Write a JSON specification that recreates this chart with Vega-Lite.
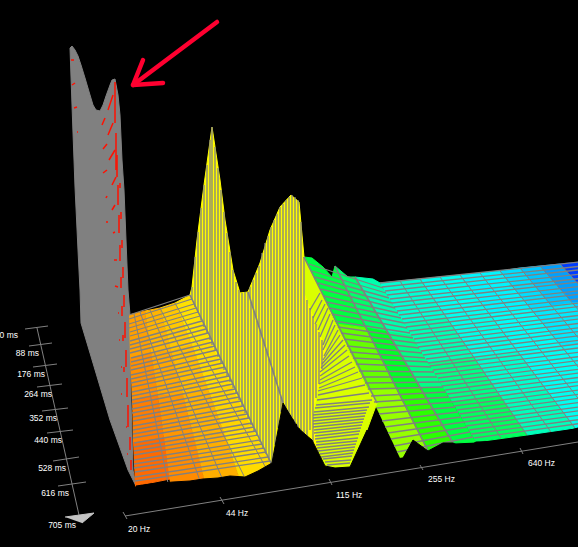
{"$schema":"https://vega.github.io/schema/vega-lite/v6.json","width":578,"height":547,"autosize":{"type":"none"},"padding":0,"background":"#000000","config":{"view":{"stroke":null}},
"datasets":{
"wall":[{"id":"w","xs":[70,72,75,78,81,85,90,93,96,100,103,106,110,112,115,118,120,122,124,126,128,130,131,133,136,128,110,90,81,80,78,75,73,71,70],"ys":[48,46,50,56,65,78,95,105,110,111,105,96,85,80,79,95,115,160,190,240,290,315,400,470,486,470,420,353,323,290,250,187,133,77,48]}],
"surface":[
{"id":"a1","h":30,"xs":[129,145,151,130],"ys":[315,311,353,358]},{"id":"a2","h":36,"xs":[145,160,171,151],"ys":[311,308,351,353]},{"id":"a3","h":42,"xs":[160,175,192,171],"ys":[308,303,345,351]},{"id":"a4","h":50,"xs":[175,190,210,192],"ys":[303,295,340,345]},
{"id":"b1","h":25,"xs":[130,151,158,132],"ys":[358,353,396,400]},{"id":"b2","h":32,"xs":[151,171,183,158],"ys":[353,351,395,396]},{"id":"b3","h":38,"xs":[171,192,208,183],"ys":[351,345,389,395]},{"id":"b4","h":48,"xs":[192,210,231,208],"ys":[345,340,384,389]},
{"id":"c1","h":20,"xs":[132,158,164,133],"ys":[400,396,438,443]},{"id":"c2","h":27,"xs":[158,183,194,164],"ys":[396,395,438,438]},{"id":"c3","h":35,"xs":[183,208,224,194],"ys":[395,389,433,438]},{"id":"c4","h":46,"xs":[208,231,251,224],"ys":[389,384,425,433]},
{"id":"d1","h":15,"xs":[133,164,170,135],"ys":[443,438,479,486]},{"id":"d2","h":24,"xs":[164,194,205,170],"ys":[438,438,483,483]},{"id":"d3","h":34,"xs":[194,224,240,205],"ys":[438,433,480,483]},{"id":"d4","h":48,"xs":[224,251,272,240],"ys":[433,425,465,480]},
{"id":"g1a","h":125,"xs":[304,312,323,332,335,366,336],"ys":[257,258,267,277,266,328,324]},{"id":"g1b","h":110,"xs":[336,366,397,368],"ys":[324,328,390,390]},{"id":"g1c","h":98,"xs":[368,397,428,400],"ys":[390,390,451,458]},
{"id":"g2a","h":132,"xs":[335,348,355,388,366],"ys":[266,277,277,332,328]},{"id":"g2b","h":122,"xs":[366,388,420,397],"ys":[328,332,388,390]},{"id":"g2c","h":118,"xs":[397,420,453,428],"ys":[390,388,443,451]},
{"id":"g3a","h":148,"xs":[355,373,380,412,388],"ys":[277,279,283,336,332]},{"id":"g3b","h":138,"xs":[388,412,444,420],"ys":[332,336,389,388]},{"id":"g3c","h":125,"xs":[420,444,476,453],"ys":[388,389,442,443]},
{"id":"f01","h":160,"xs":[380,420,447,404],"ys":[283,279,318,323]},{"id":"f02","h":150,"xs":[404,447,474,428],"ys":[323,318,357,363]},{"id":"f03","h":138,"xs":[428,474,500,452],"ys":[363,357,396,402]},{"id":"f04","h":130,"xs":[452,500,527,476],"ys":[402,396,435,442]},
{"id":"f11","h":172,"xs":[420,460,489,447],"ys":[279,275,313,318]},{"id":"f12","h":168,"xs":[447,489,518,474],"ys":[318,313,352,357]},{"id":"f13","h":158,"xs":[474,518,546,500],"ys":[357,352,390,396]},{"id":"f14","h":152,"xs":[500,546,575,527],"ys":[396,390,428,435]},
{"id":"f21","h":184,"xs":[460,500,531,489],"ys":[275,271,309,313]},{"id":"f22","h":176,"xs":[489,531,562,518],"ys":[313,309,346,352]},{"id":"f23","h":174,"xs":[518,562,592,546],"ys":[352,346,384,390]},{"id":"f24","h":172,"xs":[546,592,623,575],"ys":[390,384,422,428]},
{"id":"f31a","h":192,"xs":[500,520,552,531],"ys":[271,268,306,309]},{"id":"f31b","h":200,"xs":[520,540,573,552],"ys":[268,266,303,306]},{"id":"f41a","h":212,"xs":[540,560,594,573],"ys":[266,264,301,303]},{"id":"f41b","h":235,"xs":[560,580,615,594],"ys":[264,262,299,301]},
{"id":"f32","h":188,"xs":[531,573,605,562],"ys":[309,303,341,346]},{"id":"f33","h":182,"xs":[562,605,638,592],"ys":[346,341,378,384]},{"id":"f34","h":180,"xs":[592,638,670,623],"ys":[384,378,415,422]},{"id":"f42","h":198,"xs":[573,615,649,605],"ys":[303,299,335,341]},
{"id":"p3","h":75,"xs":[304,336,368,377,367,350,325,313,313,326,304],"ys":[257,324,390,403,430,468,467,445,413,350,293]},
{"id":"p2","h":60,"xs":[248,260,270,280,291,299,304,304,326,313,318,283],"ys":[292,263,230,207,195,202,257,293,350,413,455,403]},
{"id":"p1","h":59,"xs":[190,192,197,204,212,220,225,233,240,248,283,272,251,231,210],"ys":[295,287,240,185,127,180,220,270,293,292,403,465,425,384,340]}
],
"mesh":[
{"a":129,"b":315,"c":190,"d":295},{"a":129,"b":319,"c":192,"d":299},{"a":129,"b":324,"c":194,"d":304},{"a":129,"b":328,"c":196,"d":308},{"a":130,"b":332,"c":198,"d":312},{"a":130,"b":336,"c":200,"d":316},{"a":130,"b":341,"c":202,"d":321},{"a":130,"b":345,"c":204,"d":325},{"a":130,"b":349,"c":206,"d":329},{"a":130,"b":353,"c":208,"d":333},{"a":131,"b":358,"c":210,"d":338},{"a":131,"b":362,"c":213,"d":342},{"a":131,"b":366,"c":215,"d":346},{"a":131,"b":370,"c":217,"d":350},{"a":131,"b":375,"c":219,"d":355},{"a":131,"b":379,"c":221,"d":359},{"a":131,"b":383,"c":223,"d":363},{"a":132,"b":387,"c":225,"d":367},{"a":132,"b":392,"c":227,"d":372},{"a":132,"b":396,"c":229,"d":376},{"a":132,"b":400,"c":231,"d":380},{"a":132,"b":404,"c":233,"d":384},{"a":132,"b":409,"c":235,"d":389},{"a":132,"b":413,"c":237,"d":393},{"a":133,"b":417,"c":239,"d":397},{"a":133,"b":421,"c":241,"d":401},{"a":133,"b":426,"c":243,"d":406},{"a":133,"b":430,"c":245,"d":410},{"a":133,"b":434,"c":247,"d":414},{"a":133,"b":438,"c":249,"d":418},{"a":134,"b":443,"c":252,"d":423},{"a":134,"b":447,"c":254,"d":427},{"a":134,"b":451,"c":256,"d":431},{"a":134,"b":455,"c":258,"d":435},{"a":134,"b":460,"c":260,"d":440},{"a":134,"b":464,"c":262,"d":444},{"a":134,"b":468,"c":264,"d":448},{"a":135,"b":472,"c":266,"d":452},{"a":135,"b":477,"c":268,"d":457},{"a":135,"b":481,"c":270,"d":461},
{"a":380,"b":283,"c":580,"d":262},{"a":382,"b":287,"c":583,"d":266},{"a":385,"b":291,"c":587,"d":269},{"a":387,"b":295,"c":590,"d":273},{"a":390,"b":299,"c":594,"d":277},{"a":392,"b":303,"c":597,"d":280},{"a":394,"b":307,"c":601,"d":284},{"a":397,"b":311,"c":604,"d":288},{"a":399,"b":315,"c":608,"d":291},{"a":402,"b":319,"c":611,"d":295},{"a":404,"b":323,"c":615,"d":299},{"a":406,"b":327,"c":618,"d":302},{"a":409,"b":331,"c":621,"d":306},{"a":411,"b":335,"c":625,"d":310},{"a":414,"b":339,"c":628,"d":313},{"a":416,"b":343,"c":632,"d":317},{"a":418,"b":347,"c":635,"d":321},{"a":421,"b":351,"c":639,"d":324},{"a":423,"b":355,"c":642,"d":328},{"a":426,"b":359,"c":646,"d":332},{"a":428,"b":363,"c":649,"d":335},{"a":430,"b":366,"c":652,"d":339},{"a":433,"b":370,"c":656,"d":343},{"a":435,"b":374,"c":659,"d":347},{"a":438,"b":378,"c":663,"d":350},{"a":440,"b":382,"c":666,"d":354},{"a":442,"b":386,"c":670,"d":358},{"a":445,"b":390,"c":673,"d":361},{"a":447,"b":394,"c":677,"d":365},{"a":450,"b":398,"c":680,"d":369},{"a":452,"b":402,"c":684,"d":372},{"a":454,"b":406,"c":687,"d":376},{"a":457,"b":410,"c":690,"d":380},{"a":459,"b":414,"c":694,"d":383},{"a":462,"b":418,"c":697,"d":387},{"a":464,"b":422,"c":701,"d":391},{"a":466,"b":426,"c":704,"d":394},{"a":469,"b":430,"c":708,"d":398},{"a":471,"b":434,"c":711,"d":402},{"a":474,"b":438,"c":715,"d":405},
{"a":309,"b":264,"c":383,"d":288},{"a":312,"b":271,"c":386,"d":293},{"a":315,"b":277,"c":389,"d":298},{"a":318,"b":283,"c":392,"d":303},{"a":321,"b":289,"c":395,"d":308},{"a":324,"b":296,"c":398,"d":313},{"a":327,"b":302,"c":401,"d":318},{"a":330,"b":308,"c":404,"d":323},{"a":332,"b":314,"c":407,"d":328},{"a":335,"b":321,"c":410,"d":333},{"a":338,"b":327,"c":413,"d":338},{"a":341,"b":333,"c":416,"d":343},{"a":344,"b":339,"c":419,"d":348},{"a":347,"b":346,"c":422,"d":353},{"a":350,"b":352,"c":425,"d":358},{"a":353,"b":358,"c":428,"d":362},{"a":356,"b":364,"c":431,"d":367},{"a":359,"b":371,"c":434,"d":372},{"a":362,"b":377,"c":437,"d":377},{"a":365,"b":383,"c":440,"d":382},{"a":368,"b":389,"c":443,"d":387},{"a":371,"b":396,"c":446,"d":392},{"a":374,"b":402,"c":449,"d":397},{"a":377,"b":408,"c":452,"d":402},{"a":379,"b":414,"c":455,"d":407},{"a":382,"b":421,"c":458,"d":412},{"a":385,"b":427,"c":461,"d":417},{"a":388,"b":433,"c":464,"d":422},{"a":391,"b":439,"c":467,"d":427},{"a":394,"b":446,"c":470,"d":432},{"a":397,"b":452,"c":473,"d":437},
{"a":327,"b":465,"c":350,"d":463},{"a":323,"b":459,"c":352,"d":456},{"a":320,"b":454,"c":354,"d":450},{"a":317,"b":448,"c":356,"d":444},{"a":316,"b":442,"c":358,"d":438},{"a":315,"b":436,"c":360,"d":431},{"a":314,"b":430,"c":362,"d":425},{"a":313,"b":424,"c":364,"d":419},{"a":313,"b":418,"c":366,"d":413},{"a":314,"b":412,"c":369,"d":407},{"a":316,"b":405,"c":372,"d":400},{"a":318,"b":395,"c":365,"d":385},{"a":319,"b":388,"c":358,"d":372},{"a":320,"b":380,"c":352,"d":362},{"a":320,"b":372,"c":347,"d":350},{"a":322,"b":364,"c":343,"d":340},{"a":324,"b":356,"c":338,"d":330},{"a":323,"b":345,"c":333,"d":320},{"a":318,"b":330,"c":328,"d":308},{"a":313,"b":318,"c":322,"d":300},
{"a":325,"b":462,"c":351,"d":460},{"a":321,"b":457,"c":353,"d":453},{"a":318,"b":451,"c":355,"d":447},{"a":316,"b":445,"c":357,"d":441},{"a":315,"b":439,"c":359,"d":434},{"a":314,"b":433,"c":361,"d":428},{"a":313,"b":427,"c":363,"d":422},{"a":313,"b":421,"c":365,"d":416},{"a":313,"b":415,"c":367,"d":410},{"a":315,"b":408,"c":370,"d":403},{"a":317,"b":400,"c":369,"d":393},{"a":318,"b":391,"c":362,"d":378},{"a":319,"b":384,"c":355,"d":367},{"a":320,"b":376,"c":349,"d":356},{"a":321,"b":368,"c":345,"d":345},{"a":323,"b":360,"c":340,"d":335},{"a":323,"b":350,"c":335,"d":325},{"a":320,"b":337,"c":330,"d":314},{"a":315,"b":324,"c":325,"d":304},{"a":310,"b":310,"c":320,"d":293}
],
"longs":[
{"a":134,"b":314,"c":168,"d":483},{"a":140,"b":312,"c":200,"d":481},{"a":150,"b":310,"c":222,"d":478},{"a":160,"b":308,"c":244,"d":476},{"a":175,"b":303,"c":266,"d":468},
{"a":400,"b":281,"c":501,"d":438},{"a":420,"b":279,"c":527,"d":435},{"a":440,"b":277,"c":551,"d":432},{"a":460,"b":275,"c":575,"d":428},{"a":480,"b":273,"c":599,"d":425},{"a":500,"b":271,"c":623,"d":422},{"a":520,"b":268,"c":646,"d":419},{"a":540,"b":266,"c":670,"d":415},{"a":560,"b":264,"c":694,"d":412},{"a":580,"b":262,"c":718,"d":409}
],
"hatch":[
{"a":192,"b":287,"d":300},{"a":195,"b":257,"d":307},{"a":198,"b":232,"d":313},{"a":201,"b":208,"d":320},{"a":204,"b":185,"d":327},{"a":207,"b":165,"d":334},{"a":210,"b":140,"d":340},{"a":212,"b":127,"d":345},{"a":215,"b":147,"d":351},{"a":218,"b":168,"d":357},{"a":221,"b":190,"d":364},{"a":224,"b":212,"d":370},{"a":227,"b":233,"d":376},{"a":230,"b":252,"d":382},{"a":233,"b":270,"d":388},{"a":236,"b":282,"d":394},{"a":239,"b":290,"d":400},{"a":242,"b":293,"d":406},{"a":245,"b":292,"d":413},{"a":248,"b":292,"d":419},{"a":251,"b":302,"d":425},{"a":254,"b":311,"d":431},{"a":257,"b":321,"d":436},{"a":260,"b":330,"d":442},{"a":263,"b":340,"d":448},{"a":266,"b":349,"d":454},{"a":269,"b":359,"d":460},{"a":272,"b":368,"d":463},{"a":275,"b":378,"d":445},{"a":278,"b":387,"d":428},{"a":281,"b":397,"d":412},
{"a":250,"b":287,"d":298},{"a":253,"b":280,"d":308},{"a":256,"b":273,"d":317},{"a":259,"b":266,"d":327},{"a":262,"b":253,"d":336},{"a":265,"b":243,"d":346},{"a":268,"b":236,"d":355},{"a":271,"b":227,"d":365},{"a":274,"b":220,"d":374},{"a":277,"b":214,"d":384},{"a":280,"b":207,"d":393},{"a":283,"b":204,"d":403},{"a":286,"b":200,"d":410},{"a":289,"b":197,"d":415},{"a":292,"b":195,"d":420},{"a":295,"b":197,"d":425},{"a":298,"b":200,"d":430},{"a":301,"b":222,"d":433},{"a":304,"b":257,"d":436},{"a":307,"b":300,"d":438},{"a":310,"b":308,"d":430},{"a":313,"b":316,"d":442},{"a":316,"b":324,"d":398},{"a":319,"b":332,"d":384},{"a":322,"b":340,"d":369}
],
"ridge":[{"a":248,"b":292,"c":283,"d":403},{"a":304,"b":257,"c":377,"d":403},{"a":335,"b":266,"c":428,"d":451},{"a":355,"b":277,"c":453,"d":443},{"a":272,"b":465,"c":190,"d":295}],
"mask":[{"id":"m","xs":[136,150,173,190,203,218,230,245,258,272,283,290,297,306,312,318,325,335,350,367,378,388,403,413,428,443,453,465,476,511,571,578,578,136],"ys":[486,484,482,481,479,478,476,477,471,463,403,415,427,435,440,452,466,468,467,430,445,460,458,440,451,443,443,449,442,441,430,428,547,547]}],
"red":[{"a":115,"b":82,"c":115,"d":123},{"a":116,"b":133,"c":116,"d":170},{"a":117,"b":155,"c":117,"d":177},{"a":118,"b":185,"c":118,"d":205},{"a":120,"b":183,"c":120,"d":188},{"a":121,"b":212,"c":121,"d":219},{"a":119,"b":215,"c":119,"d":233},{"a":122,"b":240,"c":122,"d":248},{"a":120,"b":245,"c":120,"d":261},{"a":123,"b":267,"c":123,"d":278},{"a":121,"b":277,"c":121,"d":288},{"a":124,"b":295,"c":124,"d":307},{"a":122,"b":306,"c":122,"d":316},{"a":125,"b":322,"c":125,"d":338},{"a":123,"b":335,"c":123,"d":341},{"a":126,"b":350,"c":126,"d":367},{"a":124,"b":367,"c":124,"d":372},{"a":127,"b":378,"c":127,"d":397},{"a":128,"b":405,"c":128,"d":427},{"a":130,"b":437,"c":130,"d":450},{"a":131,"b":460,"c":131,"d":470},{"a":113,"b":95,"c":108,"d":110},{"a":105,"b":118,"c":102,"d":125},{"a":113,"b":123,"c":108,"d":135},{"a":107,"b":144,"c":103,"d":149},{"a":115,"b":150,"c":109,"d":160},{"a":107,"b":170,"c":103,"d":173},{"a":116,"b":177,"c":112,"d":185},{"a":115,"b":205,"c":112,"d":210},{"a":107,"b":196,"c":106,"d":198},{"a":107,"b":221,"c":107,"d":223},{"a":113,"b":233,"c":115,"d":232},{"a":114,"b":260,"c":117,"d":260},{"a":115,"b":286,"c":118,"d":287},{"a":118,"b":313,"c":119,"d":313},{"a":119,"b":340,"c":120,"d":340},{"a":121,"b":367,"c":122,"d":367},{"a":121,"b":394,"c":122,"d":394},{"a":126,"b":427,"c":127,"d":427},{"a":127,"b":454,"c":128,"d":454},{"a":71,"b":60,"c":74,"d":60},{"a":72,"b":85,"c":75,"d":83},{"a":74,"b":108,"c":77,"d":107},{"a":77,"b":132,"c":78,"d":132}],
"arrow":[{"id":"s","xs":[217,133],"ys":[22,85]},{"id":"h","xs":[143,133,163],"ys":[60,85,83]}],
"axes":[{"a":37,"b":328,"c":79,"d":515},{"a":25,"b":329,"c":48,"d":326},{"a":29,"b":346,"c":52,"d":343},{"a":33,"b":367,"c":57,"d":364},{"a":37,"b":387,"c":62,"d":384},{"a":42,"b":411,"c":68,"d":408},{"a":47,"b":433,"c":73,"d":430},{"a":53,"b":461,"c":79,"d":457},{"a":58,"b":486,"c":86,"d":482},{"a":125,"b":516,"c":578,"d":442},{"a":123,"b":512,"c":127,"d":519},{"a":220,"b":497,"c":224,"d":504},{"a":329,"b":479,"c":332,"d":485},{"a":420,"b":465,"c":423,"d":470},{"a":520,"b":448,"c":523,"d":454}],
"tri":[{"id":"t","xs":[65,94,82],"ys":[517,513,523]}],
"ms":[{"t":"0 ms","u":18,"v":335},{"t":"88 ms","u":39,"v":353},{"t":"176 ms","u":45,"v":374},{"t":"264 ms","u":52,"v":394},{"t":"352 ms","u":57,"v":418},{"t":"440 ms","u":62,"v":440},{"t":"528 ms","u":66,"v":468},{"t":"616 ms","u":69,"v":493},{"t":"705 ms","u":76,"v":525}],
"hz":[{"t":"20 Hz","u":128,"v":529},{"t":"44 Hz","u":226,"v":513},{"t":"115 Hz","u":336,"v":495},{"t":"255 Hz","u":428,"v":479},{"t":"640 Hz","u":528,"v":463}]
},
"encoding":{"x":{"type":"quantitative","scale":{"domain":[0,578],"nice":false,"zero":false},"axis":null},"y":{"type":"quantitative","scale":{"domain":[0,547],"reverse":true,"nice":false,"zero":false},"axis":null}},
"layer":[
{"data":{"name":"wall"},"transform":[{"flatten":["xs","ys"]},{"window":[{"op":"row_number","as":"i"}]}],"mark":{"type":"line","fill":"#808080","stroke":"#808080","strokeWidth":1},"encoding":{"x":{"field":"xs"},"y":{"field":"ys"},"order":{"field":"i"},"detail":{"field":"id"}}},
{"data":{"name":"surface"},"transform":[{"flatten":["xs","ys"]},{"window":[{"op":"row_number","as":"i"}]}],"mark":{"type":"line","strokeWidth":1,"clip":true},"encoding":{"x":{"field":"xs"},"y":{"field":"ys"},"order":{"field":"i"},"detail":{"field":"id"},"fill":{"field":"h","type":"quantitative","scale":{"domain":[0,60,120,180,240],"range":["#ff0000","#ffff00","#00ff00","#00ffff","#0000ff"]},"legend":null},"stroke":{"field":"h","type":"quantitative","scale":{"domain":[0,60,120,180,240],"range":["#ff0000","#ffff00","#00ff00","#00ffff","#0000ff"]},"legend":null}}},
{"data":{"name":"mesh"},"mark":{"type":"rule","stroke":"#808080","strokeWidth":1.3,"clip":true},"encoding":{"x":{"field":"a"},"y":{"field":"b"},"x2":{"field":"c"},"y2":{"field":"d"}}},
{"data":{"name":"longs"},"mark":{"type":"rule","stroke":"#808080","strokeWidth":1,"clip":true},"encoding":{"x":{"field":"a"},"y":{"field":"b"},"x2":{"field":"c"},"y2":{"field":"d"}}},
{"data":{"name":"hatch"},"mark":{"type":"rule","stroke":"#808080","strokeWidth":1.3,"clip":true},"encoding":{"x":{"field":"a"},"y":{"field":"b"},"y2":{"field":"d"}}},
{"data":{"name":"ridge"},"mark":{"type":"rule","stroke":"#808080","strokeWidth":1.6,"clip":true},"encoding":{"x":{"field":"a"},"y":{"field":"b"},"x2":{"field":"c"},"y2":{"field":"d"}}},
{"data":{"name":"mask"},"transform":[{"flatten":["xs","ys"]},{"window":[{"op":"row_number","as":"i"}]}],"mark":{"type":"line","fill":"#000000","stroke":"#000000","strokeWidth":1},"encoding":{"x":{"field":"xs"},"y":{"field":"ys"},"order":{"field":"i"},"detail":{"field":"id"}}},
{"data":{"name":"red"},"mark":{"type":"rule","stroke":"#ff1000","strokeWidth":1.5},"encoding":{"x":{"field":"a"},"y":{"field":"b"},"x2":{"field":"c"},"y2":{"field":"d"}}},
{"data":{"name":"arrow"},"transform":[{"flatten":["xs","ys"]},{"window":[{"op":"row_number","as":"i"}]}],"mark":{"type":"line","stroke":"#ff0030","strokeWidth":4.5,"strokeCap":"round","strokeJoin":"round"},"encoding":{"x":{"field":"xs"},"y":{"field":"ys"},"order":{"field":"i"},"detail":{"field":"id"}}},
{"data":{"name":"axes"},"mark":{"type":"rule","stroke":"#808080","strokeWidth":1,"clip":true},"encoding":{"x":{"field":"a"},"y":{"field":"b"},"x2":{"field":"c"},"y2":{"field":"d"}}},
{"data":{"name":"tri"},"transform":[{"flatten":["xs","ys"]},{"window":[{"op":"row_number","as":"i"}]}],"mark":{"type":"line","fill":"#c4c4c4","stroke":"#c4c4c4","strokeWidth":1},"encoding":{"x":{"field":"xs"},"y":{"field":"ys"},"order":{"field":"i"},"detail":{"field":"id"}}},
{"data":{"name":"ms"},"mark":{"type":"text","align":"right","baseline":"middle","font":"Liberation Sans","fontSize":8.5,"fill":"#ffffff"},"encoding":{"x":{"field":"u"},"y":{"field":"v"},"text":{"field":"t"}}},
{"data":{"name":"hz"},"mark":{"type":"text","align":"left","baseline":"middle","font":"Liberation Sans","fontSize":8.5,"fill":"#ffffff"},"encoding":{"x":{"field":"u"},"y":{"field":"v"},"text":{"field":"t"}}}
]}
